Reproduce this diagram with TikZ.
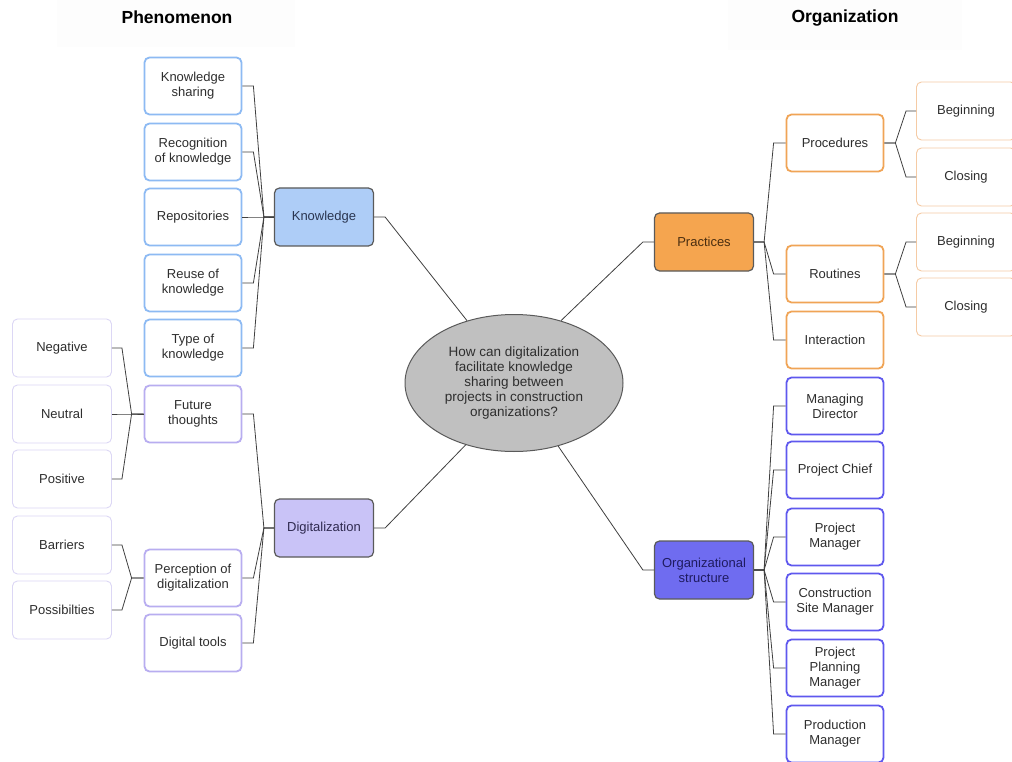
\documentclass[tikz,border=0pt]{standalone}
\usepackage{fontspec}
\setmainfont{Liberation Sans}
\usetikzlibrary{shapes.geometric,calc}
\definecolor{txt}{HTML}{2E2E2E}
\definecolor{kbl}{HTML}{8DBAF3}
\definecolor{kfill}{HTML}{AECDF7}
\definecolor{ktxt}{HTML}{2A3550}
\definecolor{pbl}{HTML}{B8ADF0}
\definecolor{pfill}{HTML}{C9C3F7}
\definecolor{ptxt}{HTML}{2F2A50}
\definecolor{lpbl}{HTML}{DCD7F5}
\definecolor{obl}{HTML}{F0A456}
\definecolor{ofill}{HTML}{F5A54F}
\definecolor{otxt}{HTML}{4A2E10}
\definecolor{lobl}{HTML}{F5CBA5}
\definecolor{sbl}{HTML}{5F58EE}
\definecolor{sfill}{HTML}{6F6CF0}
\definecolor{stxt}{HTML}{1F1B60}
\definecolor{mainbd}{HTML}{5A5A5A}
\definecolor{ellfill}{HTML}{C0C0C0}
\definecolor{ttlbg}{HTML}{FDFDFD}
\tikzset{
  box/.style={rectangle, rounded corners=5pt, align=center, text=txt,
    font=\fontsize{13}{15}\selectfont, inner sep=2pt},
  kid/.style={box, minimum width=97pt, minimum height=57pt, line width=1.8pt},
  gkid/.style={box, minimum width=99pt, minimum height=58pt, line width=0.9pt},
  mainbox/.style={box, minimum width=99pt, minimum height=58pt, draw=mainbd, line width=1.2pt,
    font=\fontsize{13}{15}\selectfont},
  kkid/.style={kid, draw=kbl},
  pkid/.style={kid, draw=pbl},
  lpkid/.style={gkid, draw=lpbl},
  okid/.style={kid, draw=obl},
  lokid/.style={gkid, draw=lobl},
  skid/.style={kid, draw=sbl},
  conn/.style={draw=black!75, line width=0.8pt},
  ttl/.style={font=\fontsize{17.5}{20}\selectfont\bfseries, text=black}
}
\begin{document}
\begin{tikzpicture}[x=1pt,y=-1pt]
\useasboundingbox (0,0) rectangle (1012,762);
\fill[white] (0,0) rectangle (1012,762);
% titles
\fill[ttlbg] (57,0) rectangle (295,47);
\fill[ttlbg] (728,0) rectangle (962,50);
\node[ttl] (t1) at (177,17) {Phenomenon};
\node[ttl] (t2) at (845,18) {Organization};
% center
\node[ellipse, minimum width=218pt, minimum height=137pt, fill=ellfill, draw=mainbd, line width=1pt,
  align=center, text=txt, font=\fontsize{13.5}{14.8}\selectfont, inner sep=0pt] (q) at (514,383)
  {How can digitalization\\facilitate knowledge\\sharing between\\projects in construction\\organizations?};
% left main
\node[mainbox, fill=kfill, text=ktxt] (kn) at (324,217) {Knowledge};
\node[mainbox, fill=pfill, text=ptxt] (dg) at (324,528) {Digitalization};
\node[kkid] (ks) at (193,86) {Knowledge\\sharing};
\node[kkid] (rk) at (193,152) {Recognition\\of knowledge};
\node[kkid] (rp) at (193,217) {Repositories};
\node[kkid] (ru) at (193,283) {Reuse of\\knowledge};
\node[kkid] (tk) at (193,348) {Type of\\knowledge};
\node[pkid] (ft) at (193,414) {Future\\thoughts};
\node[pkid] (pd) at (193,578) {Perception of\\digitalization};
\node[pkid] (dt) at (193,643) {Digital tools};
\node[lpkid] (neg) at (62,348) {Negative};
\node[lpkid] (neu) at (62,414) {Neutral};
\node[lpkid] (pos) at (62,479) {Positive};
\node[lpkid] (bar) at (62,545) {Barriers};
\node[lpkid] (psb) at (62,610) {Possibilties};
% right main
\node[mainbox, fill=ofill, text=otxt] (pr) at (704,242) {Practices};
\node[mainbox, fill=sfill, text=stxt] (os) at (704,570) {Organizational\\structure};
\node[okid] (proc) at (835,143) {Procedures};
\node[okid] (rout) at (835,274) {Routines};
\node[okid] (inter) at (835,340) {Interaction};
\node[lokid] (b1) at (966,111) {Beginning};
\node[lokid] (c1) at (966,177) {Closing};
\node[lokid] (b2) at (966,242) {Beginning};
\node[lokid] (c2) at (966,307) {Closing};
\node[skid] (md) at (835,406) {Managing\\Director};
\node[skid] (pc) at (835,470) {Project Chief};
\node[skid] (pm) at (835,537) {Project\\Manager};
\node[skid] (csm) at (835,602) {Construction\\Site Manager};
\node[skid] (ppm) at (835,668) {Project\\Planning\\Manager};
\node[skid] (prm) at (835,734) {Production\\Manager};
% connectors left
\foreach \c in {ks,rk,rp,ru,tk}
  \draw[conn] (\c.east) -- ++(11,0) -- ($(kn.west)+(-10,0)$) -- (kn.west);
\foreach \c in {ft,pd,dt}
  \draw[conn] (\c.east) -- ++(11,0) -- ($(dg.west)+(-10,0)$) -- (dg.west);
\foreach \c in {neg,neu,pos}
  \draw[conn] (\c.east) -- ++(10,0) -- ($(ft.west)+(-12,0)$) -- (ft.west);
\foreach \c in {bar,psb}
  \draw[conn] (\c.east) -- ++(10,0) -- ($(pd.west)+(-12,0)$) -- (pd.west);
% connectors right
\foreach \c in {proc,rout,inter}
  \draw[conn] (pr.east) -- ++(10,0) -- ($(\c.west)+(-12,0)$) -- (\c.west);
\foreach \c in {md,pc,pm,csm,ppm,prm}
  \draw[conn] (os.east) -- ++(10,0) -- ($(\c.west)+(-12,0)$) -- (\c.west);
\foreach \c in {b1,c1}
  \draw[conn] (proc.east) -- ++(11,0) -- ($(\c.west)+(-10,0)$) -- (\c.west);
\foreach \c in {b2,c2}
  \draw[conn] (rout.east) -- ++(11,0) -- ($(\c.west)+(-10,0)$) -- (\c.west);
% to center
\draw[conn] (kn.east) -- ++(11,0) -- (q.127);
\draw[conn] (dg.east) -- ++(11,0) -- (q.232);
\draw[conn] (pr.west) -- ++(-11,0) -- (q.53);
\draw[conn] (os.west) -- ++(-11,0) -- (q.305);
\end{tikzpicture}
\end{document}
